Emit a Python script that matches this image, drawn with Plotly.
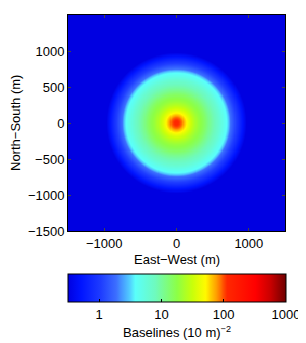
import numpy as np
import plotly.graph_objects as go

# Radial profile of baseline density (radius in m, baselines per (10 m)^2)
radius_m = [0, 25, 50, 75, 100, 125, 150, 175, 200, 250, 300, 350, 400, 450, 500,
            550, 600, 650, 700, 725, 750, 800, 850, 900, 950, 1000, 1100, 1500, 2200]
density = [120, 115, 105, 90, 72, 58, 47, 39, 33, 25, 20, 17, 14, 11, 9,
           7.5, 6, 4.6, 3.7, 2.9, 1.9, 1.3, 0.9, 0.6, 0.4, 0.25, 0.2, 0.2, 0.2]

x_ticks = [-1000, 0, 1000]
y_ticks = [-1500, -1000, -500, 0, 500, 1000]
cbar_vals = [1, 10, 100, 1000]
cbar_text = ["1", "10", "100", "1000"]

# grid table built from the radial profile
grid = np.arange(-1500, 1501, 15)
X, Y = np.meshgrid(grid, grid)
R = np.hypot(X, Y)
Z = np.interp(R, radius_m, np.log10(density))

colorscale = [
    [0.00, "rgb(0,0,225)"],
    [0.06, "rgb(0,20,255)"],
    [0.15, "rgb(30,60,255)"],
    [0.22, "rgb(60,110,255)"],
    [0.28, "rgb(80,200,255)"],
    [0.31, "rgb(90,255,250)"],
    [0.40, "rgb(110,250,190)"],
    [0.50, "rgb(140,255,70)"],
    [0.57, "rgb(200,255,10)"],
    [0.63, "rgb(255,250,0)"],
    [0.68, "rgb(255,160,0)"],
    [0.73, "rgb(255,40,0)"],
    [0.86, "rgb(255,0,0)"],
    [0.93, "rgb(200,0,0)"],
    [1.00, "rgb(110,0,0)"],
]

font = dict(family="Liberation Sans, Arial, Helvetica, sans-serif", size=13, color="black")

fig = go.Figure(go.Heatmap(
    x=grid, y=grid, z=Z,
    zmin=-0.5, zmax=3,
    colorscale=colorscale,
    zsmooth=False,
    colorbar=dict(
        orientation="h",
        x=0, xanchor="left", y=-0.199, yanchor="top",
        len=218, lenmode="pixels",
        thickness=28, thicknessmode="pixels",
        xpad=0, ypad=0,
        outlinecolor="black", outlinewidth=1,
        tickvals=[np.log10(v) for v in cbar_vals],
        ticktext=cbar_text,
        ticks="inside", ticklen=3, tickcolor="black",
        tickfont=font,
        title=dict(text="Baselines (10 m)<sup>−2</sup>", side="bottom", font=font),
    ),
))

fig.update_layout(
    width=306, height=343,
    margin=dict(l=60, r=29, t=7, b=120),
    paper_bgcolor="white", plot_bgcolor="white",
    font=font,
    annotations=[
        dict(text="East−West (m)", xref="paper", yref="paper", x=0.5, y=0,
             xanchor="center", yanchor="middle", yshift=-28, showarrow=False, font=font),
        dict(text="North−South (m)", xref="paper", yref="paper", x=0, y=0.5,
             xanchor="center", yanchor="middle", xshift=-53, textangle=-90,
             showarrow=False, font=font),
    ],
)
fig.update_xaxes(
    range=[-1500, 1500], tickvals=x_ticks, ticks="inside", ticklen=3,
    showline=True, linecolor="black", linewidth=1, mirror="ticks",
    showgrid=False, zeroline=False, automargin=False,
)
fig.update_yaxes(
    range=[-1500, 1500], tickvals=y_ticks, ticks="inside", ticklen=3,
    showline=True, linecolor="black", linewidth=1, mirror="ticks",
    showgrid=False, zeroline=False, automargin=False,
)

fig.write_html("out.html")
